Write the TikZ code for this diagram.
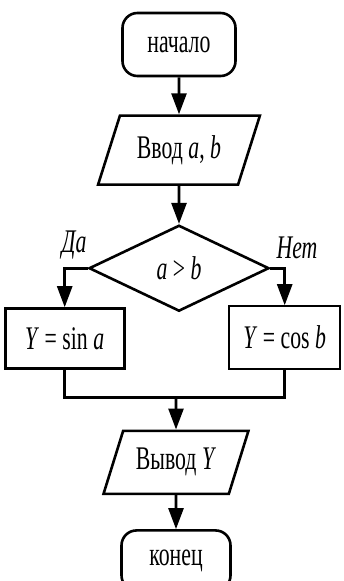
\documentclass[tikz,border=0pt]{standalone}
\usepackage{fontspec}
\setmainfont{Liberation Serif}[FakeStretch=0.66]
\usetikzlibrary{arrows.meta,positioning,shapes.geometric}

\begin{document}
\begin{tikzpicture}[
    node distance=37pt,
    font=\fontsize{33pt}{36pt}\selectfont,
    line width=2.6pt,
    termbox/.style={draw, rounded corners=15pt, inner sep=0pt},
    iobox/.style={draw, trapezium, trapezium left angle=62, trapezium right angle=118, trapezium stretches=true, inner sep=0pt},
    decbox/.style={draw, diamond, aspect=2.1, inner sep=0pt, minimum width=180pt, minimum height=86pt},
    procbox/.style={draw, inner sep=0pt},
    branchlabel/.style={inner sep=0pt, font=\fontsize{33pt}{36pt}\selectfont\itshape},
    arrow/.style={-{Triangle[length=21pt,width=15pt]}}
]
\useasboundingbox (0,0) rectangle (344pt,-581pt);
\node[termbox, minimum width=113pt, minimum height=63pt] (start) at (179pt,-44.5pt) {начало};
\node[iobox, minimum width=162pt, minimum height=69pt, below=of start] (inp) {Ввод \textit{a}, \textit{b}};
\node[decbox, below=38pt of inp] (dia) {\textit{a} > \textit{b}};
\node[procbox, line width=3pt, minimum width=119pt, minimum height=60pt, below left=39pt and -38pt of dia.west] (yes) {\textit{Y} = sin \textit{a}};
\node[procbox, line width=1.8pt, minimum width=111pt, minimum height=63pt, below right=37pt and -42pt of dia.east] (no) {\textit{Y} = cos \textit{b}};
\coordinate[below=27pt of yes.south] (mrg);
\node[iobox, minimum width=145pt, minimum height=63pt, below=117pt of dia, xshift=-3pt] (out) {Вывод \textit{Y}};
\node[termbox, minimum width=109pt, minimum height=60pt, below=34pt of out] (fin) {конец};
\node[branchlabel, above left=8pt and 0pt of dia.west] (yeslbl) {Да};
\node[branchlabel, above right=8pt and 5pt of dia.east] (nolbl) {Нет};
\draw[arrow] (start) -- (inp);
\draw[arrow] (inp) -- (dia);
\draw[arrow] (dia.west) -| (yes);
\draw[arrow] (dia.east) -| (no);
\draw (yes) -- (mrg) -| (no);
\draw[arrow] (mrg -| out.north) -- (out);
\draw[arrow] (out) -- (fin);
\end{tikzpicture}
\end{document}
